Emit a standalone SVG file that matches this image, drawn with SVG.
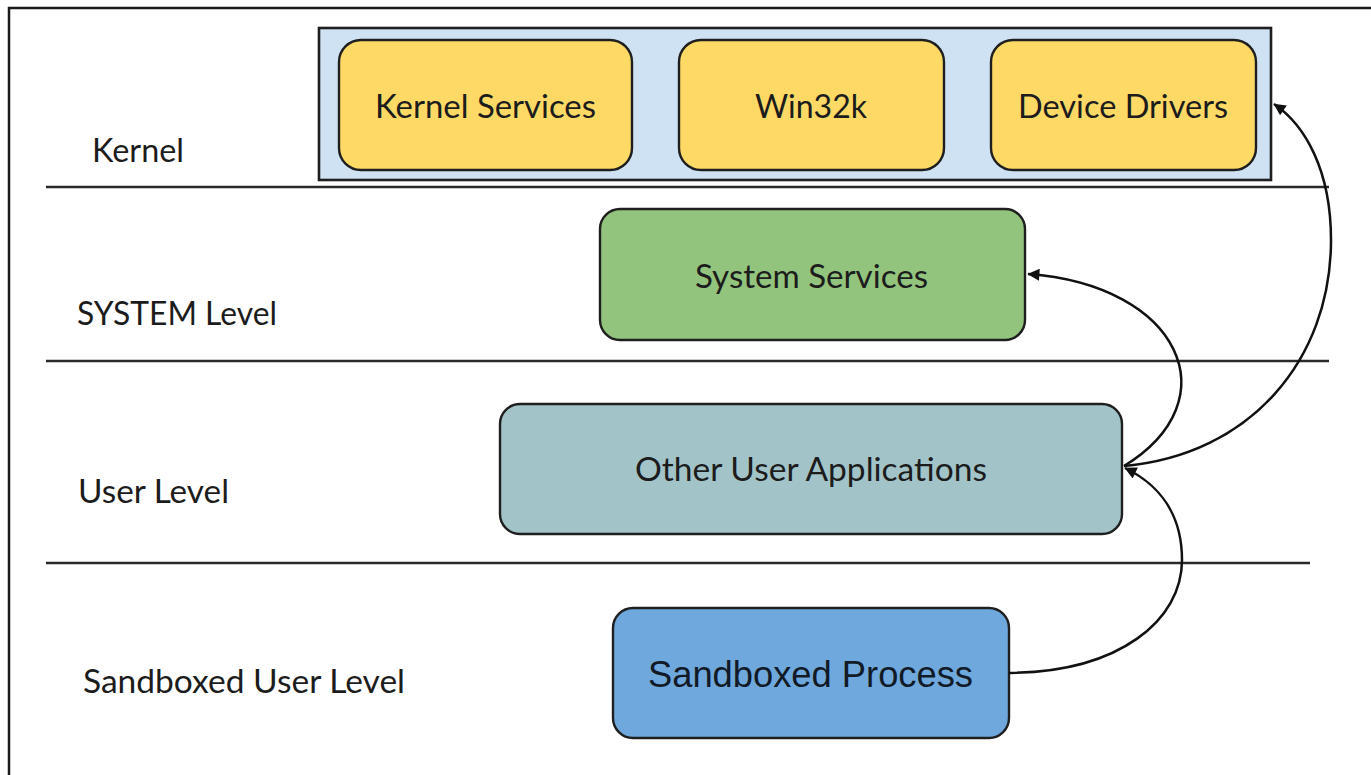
<svg xmlns="http://www.w3.org/2000/svg" width="1371" height="775" viewBox="0 0 1371 775">
  <style>
    .frame { fill: none; stroke: #1a1a1a; stroke-width: 2.5; }
    .sep { stroke: #2a2a2a; stroke-width: 2.6; }
    .box { stroke: #1f1f1f; stroke-width: 2.4; }
    .yellow { fill: #ffd966; }
    .green { fill: #93c47d; }
    .teal { fill: #a2c4c9; }
    .blue { fill: #6fa8dc; }
    .label { font-family: Lato, "Open Sans", sans-serif; font-size: 32px; fill: #1c1c1c; }
    .boxtext { font-family: Lato, "Open Sans", sans-serif; font-size: 32px; fill: #1c1c1c; text-anchor: middle; }
    .arial { font-family: "Liberation Sans", Arial, sans-serif; font-size: 36px; fill: #111a26; text-anchor: middle; }
    .conn { fill: none; stroke: #111; stroke-width: 2.5; marker-end: url(#arrow); }
  </style>
  <defs>
    <marker id="arrow" viewBox="0 0 10 10" refX="9.5" refY="5" markerWidth="16" markerHeight="12" markerUnits="userSpaceOnUse" orient="auto">
      <path d="M0,0 L10,5 L0,10 Z" fill="#111"/>
    </marker>
  </defs>

  <rect width="1371" height="775" fill="#ffffff"/>

  <!-- outer frame: only top and left edges are visible -->
  <path class="frame" d="M9,775 L9,8 L1371,8"/>

  <!-- level separators -->
  <g id="separators">
    <line class="sep" x1="46" y1="187" x2="1329" y2="187"/>
    <line class="sep" x1="46" y1="361" x2="1329" y2="361"/>
    <line class="sep" x1="46" y1="563" x2="1310" y2="563"/>
  </g>

  <!-- level labels -->
  <g id="level-labels">
    <text class="label" x="92" y="162" textLength="92" lengthAdjust="spacingAndGlyphs">Kernel</text>
    <text class="label" x="77" y="325" textLength="200" lengthAdjust="spacingAndGlyphs">SYSTEM Level</text>
    <text class="label" x="78" y="503" textLength="151" lengthAdjust="spacingAndGlyphs">User Level</text>
    <text class="label" x="83" y="693" textLength="322" lengthAdjust="spacingAndGlyphs">Sandboxed User Level</text>
  </g>

  <!-- kernel container -->
  <g id="kernel">
    <rect x="319" y="28" width="952" height="152" fill="#cfe2f3" stroke="#1f1f1f" stroke-width="2.6"/>
  </g>

  <g id="kernel-services">
    <rect class="box yellow" x="339" y="40" width="293" height="130" rx="22" ry="22"/>
    <text class="boxtext" x="485.5" y="118" textLength="221" lengthAdjust="spacingAndGlyphs">Kernel Services</text>
  </g>

  <g id="win32k">
    <rect class="box yellow" x="679" y="40" width="265" height="130" rx="22" ry="22"/>
    <text class="boxtext" x="811" y="118" textLength="112" lengthAdjust="spacingAndGlyphs">Win32k</text>
  </g>

  <g id="device-drivers">
    <rect class="box yellow" x="991" y="40" width="265" height="130" rx="22" ry="22"/>
    <text class="boxtext" x="1123" y="118" textLength="210" lengthAdjust="spacingAndGlyphs">Device Drivers</text>
  </g>

  <g id="system-services">
    <rect class="box green" x="600" y="209" width="425" height="131" rx="20" ry="20"/>
    <text class="boxtext" x="811.5" y="288" textLength="233" lengthAdjust="spacingAndGlyphs">System Services</text>
  </g>

  <g id="other-user-applications">
    <rect class="box teal" x="500" y="404" width="622" height="130" rx="20" ry="20"/>
    <text class="boxtext" x="811" y="481" textLength="352" lengthAdjust="spacingAndGlyphs">Other User Applications</text>
  </g>

  <g id="sandboxed-process">
    <rect class="box blue" x="613" y="608" width="396" height="130" rx="20" ry="20"/>
    <text class="arial" x="810.5" y="687" textLength="325" lengthAdjust="spacingAndGlyphs">Sandboxed Process</text>
  </g>

  <!-- connectors -->
  <g id="connectors">
    <path class="conn" d="M1009,673 C1120,672 1182,620 1182,560 C1182,515 1160,485 1125,468"/>
    <path class="conn" d="M1124,466 C1232,400 1180,285 1028,274"/>
    <path class="conn" d="M1124,466 C1250,455 1331,360 1331,240 C1331,170 1305,125 1274,104"/>
  </g>
</svg>
